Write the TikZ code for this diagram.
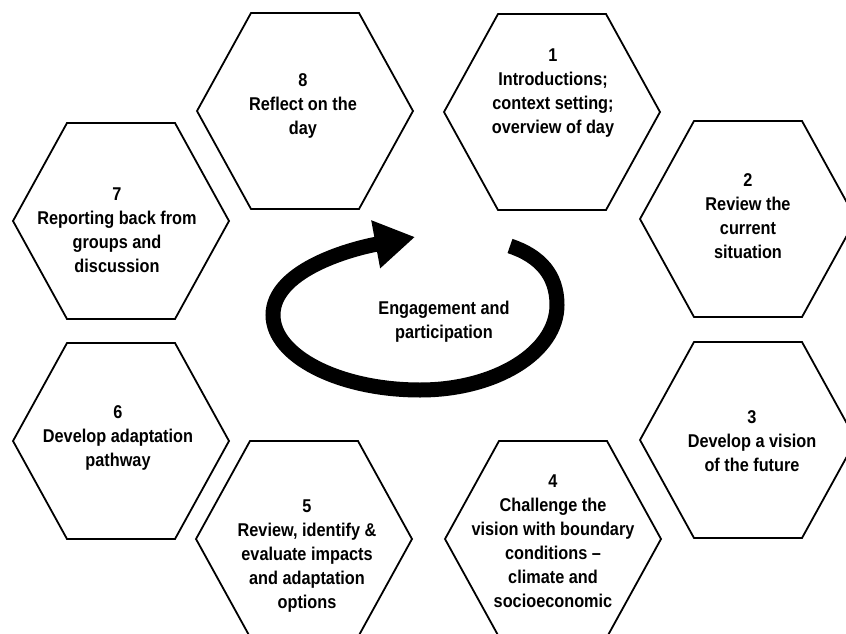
\documentclass[tikz,border=0pt]{standalone}
\usepackage{fontspec}
\setmainfont{Liberation Sans}[FakeStretch=0.88]
\usetikzlibrary{arrows.meta}
\begin{document}
\begin{tikzpicture}[x=1pt,y=-1pt]
      \tikzstyle{hexline}=[draw,line width=1.8pt,line join=miter]
      \tikzstyle{stage}=[align=center,inner sep=0pt,font=\fontsize{18.5}{24}\selectfont\bfseries]
      \tikzstyle{loop}=[draw,line width=15pt,-{Triangle[length=40pt,width=46pt]}]
      \clip (0,0) rectangle (846,634);
      % hexagon outlines
      \foreach \x/\y in {305/111,552/112,748/219,748/440,553/539,304/539,121/441,121/221}
        \path[hexline,shift={(\x,\y)}] (-108,0) -- (-54,-98) -- (54,-98) -- (108,0) -- (54,98) -- (-54,98) -- cycle;
      \node[stage] (S8) at (303,106) {8\\Reflect on the\\day};
      \node[stage] (S1) at (553,93) {1\\Introductions;\\context setting;\\overview of day};
      \node[stage] (S2) at (748,216) {2\\Review the\\current\\situation};
      \node[stage] (S3) at (752,441) {3\\Develop a vision\\of the future};
      \node[stage] (S4) at (553,541) {4\\Challenge the\\vision with boundary\\conditions --\\climate and\\socioeconomic};
      \node[stage] (S5) at (307,556) {5\\Review, identify \&\\evaluate impacts\\and adaptation\\options};
      \node[stage] (S6) at (118,438) {6\\Develop adaptation\\pathway};
      \node[stage] (S7) at (117,230) {7\\Reporting back from\\groups and\\discussion};
      % cycle in the middle
      \path[loop] (510,246) .. controls (540,256) and (557,275) .. (557,305)
        .. controls (557,352) and (496,390) .. (420,390)
        .. controls (339,390) and (273,356) .. (273,315)
        .. controls (273,272) and (345,250) .. (415,237);
      \node[stage] (core) at (444,322) {Engagement and\\participation};
    \end{tikzpicture}
\end{document}
